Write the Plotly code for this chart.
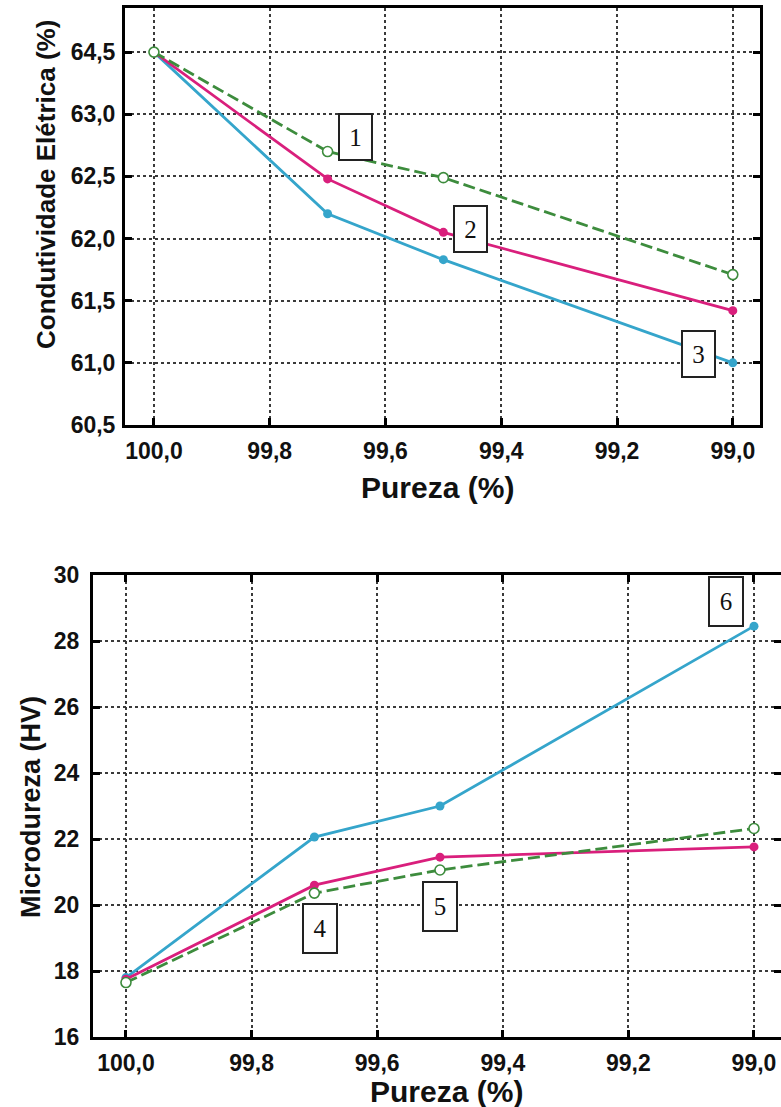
import plotly.graph_objects as go

# ---------------- data ----------------
pureza = [100.0, 99.7, 99.5, 99.0]

# Top chart: Condutividade Elétrica (values on the drawn axis scale)
cond_1 = [63.5, 62.70, 62.49, 61.71]   # green dashed, open circles
cond_2 = [63.5, 62.48, 62.05, 61.42]   # magenta
cond_3 = [63.5, 62.20, 61.83, 61.00]   # cyan
cond_tickvals = [60.5, 61.0, 61.5, 62.0, 62.5, 63.0, 63.5]
cond_ticktext = ["60,5", "61,0", "61,5", "62,0", "62,5", "63,0", "64,5"]

# Bottom chart: Microdureza (HV)
hv_4 = [17.75, 20.60, 21.45, 21.76]    # magenta
hv_5 = [17.65, 20.36, 21.06, 22.32]    # green dashed, open circles
hv_6 = [17.80, 22.06, 23.00, 28.45]    # cyan
hv_tickvals = [16, 18, 20, 22, 24, 26, 28, 30]
hv_ticktext = ["16", "18", "20", "22", "24", "26", "28", "30"]

x_tickvals = [100.0, 99.8, 99.6, 99.4, 99.2, 99.0]
x_ticktext = ["100,0", "99,8", "99,6", "99,4", "99,2", "99,0"]

# label boxes: (text, x, y)
top_labels = [("1", 99.652, 62.815), ("2", 99.453, 62.076), ("3", 99.059, 61.07)]
bot_labels = [("4", 99.691, 19.30), ("5", 99.50, 19.94), ("6", 99.044, 29.2)]

# ---------------- style ----------------
W, H = 781, 1107
GREEN = "#3d8c3d"
MAGENTA = "#d91f7c"
CYAN = "#35a5cb"
FONT = "Liberation Sans, Arial, sans-serif"

fig = go.Figure()

def add_series(xa, ya, y, color, dashed, open_marker):
    fig.add_trace(go.Scatter(
        x=pureza, y=y, xaxis=xa, yaxis=ya, mode="lines+markers",
        line=dict(color=color, width=2.8, dash="12px,5px" if dashed else "solid"),
        marker=dict(size=10 if open_marker else 9,
                    color="white" if open_marker else color,
                    line=dict(color=color, width=1.6 if open_marker else 0)),
        cliponaxis=False, showlegend=False))

add_series("x", "y", cond_3, CYAN, False, False)
add_series("x", "y", cond_2, MAGENTA, False, False)
add_series("x", "y", cond_1, GREEN, True, True)

add_series("x2", "y2", hv_6, CYAN, False, False)
add_series("x2", "y2", hv_4, MAGENTA, False, False)
add_series("x2", "y2", hv_5, GREEN, True, True)

tickfont = dict(family=FONT, size=23, color="#111", weight="bold")
common_axis = dict(
    showline=True, linecolor="black", linewidth=3,
    ticks="inside", ticklen=7, tickwidth=3, tickcolor="black",
    showgrid=True, gridcolor="#3a3a3a", gridwidth=1.6, griddash="dot",
    zeroline=False, automargin=False, tickfont=tickfont, fixedrange=True,
    tickmode="array",
)

def fx(px):
    return px / W

def fy(py):
    return 1 - py / H

fig.update_layout(
    width=W, height=H, margin=dict(l=0, r=0, t=0, b=0),
    paper_bgcolor="white", plot_bgcolor="white",
    xaxis=dict(**common_axis, domain=[fx(125), fx(760)], range=[100.05, 98.953],
               tickvals=x_tickvals, ticktext=x_ticktext, anchor="y", mirror=True,
               ticklabelstandoff=3),
    yaxis=dict(**common_axis, domain=[fy(425), fy(8)], range=[60.5, 63.855],
               tickvals=cond_tickvals, ticktext=cond_ticktext, anchor="x", mirror="ticks",
               ticklabelstandoff=2),
    xaxis2=dict(**common_axis, domain=[fx(93), 1.0], range=[100.0525, 98.957],
                tickvals=x_tickvals, ticktext=x_ticktext, anchor="y2", mirror="ticks",
                ticklabelstandoff=3),
    yaxis2=dict(**common_axis, domain=[fy(1037), fy(575)], range=[16, 30],
                tickvals=hv_tickvals, ticktext=hv_ticktext, anchor="x2", mirror="ticks",
                ticklabelstandoff=6),
)

annotations = []
annotations.append(dict(text="Condutividade Elétrica (%)", xref="paper", yref="paper",
                        x=fx(46), y=fy(185), showarrow=False, textangle=-90,
                        font=dict(family=FONT, size=26, color="#111", weight="bold"),
                        xanchor="center", yanchor="middle"))
annotations.append(dict(text="Pureza (%)", xref="paper", yref="paper",
                        x=fx(437), y=fy(487), showarrow=False,
                        font=dict(family=FONT, size=30, color="#111", weight="bold"),
                        xanchor="center", yanchor="middle"))
annotations.append(dict(text="Microdureza (HV)", xref="paper", yref="paper",
                        x=fx(31), y=fy(807), showarrow=False, textangle=-90,
                        font=dict(family=FONT, size=27, color="#111", weight="bold"),
                        xanchor="center", yanchor="middle"))
annotations.append(dict(text="Pureza (%)", xref="paper", yref="paper",
                        x=fx(446), y=fy(1091), showarrow=False,
                        font=dict(family=FONT, size=30, color="#111", weight="bold"),
                        xanchor="center", yanchor="middle"))

labelfont = dict(family="Liberation Serif, DejaVu Serif, serif", size=25, color="#111")
for txt, xv, yv in top_labels:
    annotations.append(dict(text=txt, x=xv, y=yv, xref="x", yref="y", showarrow=False,
                            font=labelfont, bgcolor="white", bordercolor="#222",
                            borderwidth=2, borderpad=2, width=27, height=40))
for txt, xv, yv in bot_labels:
    annotations.append(dict(text=txt, x=xv, y=yv, xref="x2", yref="y2", showarrow=False,
                            font=labelfont, bgcolor="white", bordercolor="#222",
                            borderwidth=2, borderpad=2, width=28, height=43))

fig.update_layout(annotations=annotations)

fig.write_html("out.html")
